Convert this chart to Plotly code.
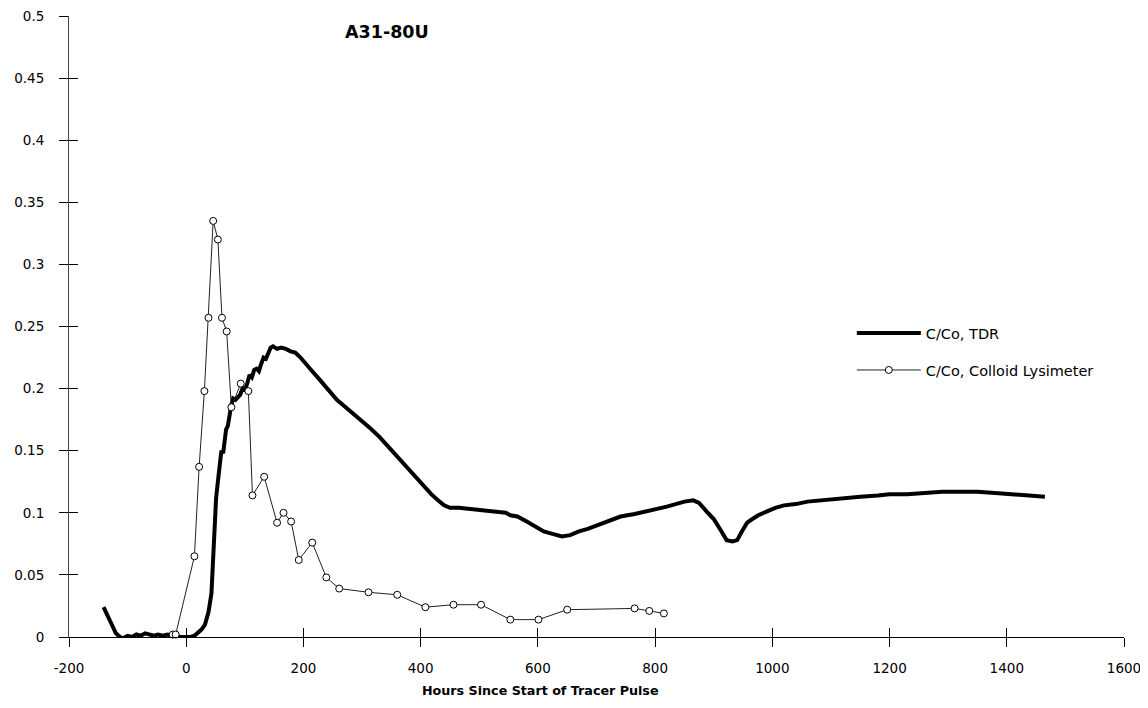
import plotly.graph_objects as go

# ---- data ----
tdr_hours = [-141, -135, -128, -120, -113, -108, -100, -92, -85, -78, -70, -62, -55, -48, -40, -32, -25, -18, -10, 0,
             8, 14, 20, 26, 32, 38, 43, 46, 48, 51, 54, 57, 60, 63, 65, 68, 71, 74, 77, 80, 84, 88, 92, 96, 100,
             104, 108, 112, 116, 120, 124, 128, 132, 136, 140, 144, 148, 155, 162, 170, 178, 186, 195, 205, 215,
             228, 242, 257, 272, 285, 300, 314, 330, 345, 360, 375, 390, 405, 418, 430, 440, 450, 465, 485, 505,
             530, 545, 553, 565, 581, 595, 610, 625, 641, 655, 670, 685, 701, 720, 741, 765, 786, 805, 820, 835,
             850, 865, 875, 888, 900, 912, 922, 932, 940, 948, 957, 966, 976, 990, 1005, 1020, 1040, 1060, 1080,
             1100, 1120, 1150, 1180, 1200, 1230, 1260, 1290, 1320, 1350, 1380, 1410, 1440, 1465]
tdr_conc = [0.024, 0.018, 0.010, 0.003, 0.000, -0.001, 0.001, 0.000, 0.002, 0.001, 0.003, 0.002, 0.001, 0.002,
            0.001, 0.002, 0.001, 0.001, 0.000, 0.000,
            0.000, 0.001, 0.003, 0.006, 0.010, 0.020, 0.035, 0.060, 0.090, 0.112, 0.125, 0.140, 0.150, 0.148,
            0.158, 0.167, 0.170, 0.180, 0.187, 0.192, 0.191, 0.193, 0.195, 0.200, 0.199,
            0.204, 0.211, 0.209, 0.215, 0.216, 0.214, 0.220, 0.225, 0.224, 0.228, 0.233, 0.234, 0.232, 0.233,
            0.232, 0.230, 0.229, 0.225, 0.220, 0.214,
            0.207, 0.199, 0.191, 0.185, 0.180, 0.174, 0.168, 0.161, 0.153, 0.145, 0.137, 0.129, 0.121, 0.115,
            0.110, 0.106, 0.104, 0.104, 0.103, 0.102,
            0.101, 0.100, 0.098, 0.097, 0.093, 0.089, 0.085, 0.083, 0.081, 0.082, 0.085, 0.087, 0.090, 0.093,
            0.097, 0.099, 0.101, 0.103, 0.105, 0.107,
            0.109, 0.110, 0.108, 0.101, 0.095, 0.086, 0.078, 0.077, 0.078, 0.085, 0.092, 0.095, 0.098, 0.101,
            0.104, 0.106, 0.107, 0.109, 0.110,
            0.111, 0.112, 0.113, 0.114, 0.115, 0.115, 0.116, 0.117, 0.117, 0.117, 0.116, 0.115, 0.114, 0.113]

lys_hours = [-23, -18, 14, 22, 31, 38, 46, 54, 61, 69, 77, 93, 106, 113, 133, 155, 166, 179, 192, 215, 239, 261,
             311, 360, 408, 456, 503, 553, 601, 650, 765, 790, 815]
lys_conc = [0.002, 0.002, 0.065, 0.137, 0.198, 0.257, 0.335, 0.320, 0.257, 0.246, 0.185, 0.204, 0.198, 0.114,
            0.129, 0.092, 0.100, 0.093, 0.062, 0.076, 0.048, 0.039, 0.036, 0.034, 0.024, 0.026, 0.026, 0.014,
            0.014, 0.022, 0.023, 0.021, 0.019]

x_ticks = [-200, 0, 200, 400, 600, 800, 1000, 1200, 1400, 1600]
y_ticks = [0, 0.05, 0.1, 0.15, 0.2, 0.25, 0.3, 0.35, 0.4, 0.45, 0.5]
y_tick_text = ["0", "0.05", "0.1", "0.15", "0.2", "0.25", "0.3", "0.35", "0.4", "0.45", "0.5"]

series_names = ["C/Co, TDR", "C/Co, Colloid Lysimeter"]
chart_title = "A31-80U"
x_title = "Hours Since Start of Tracer Pulse"

FONT = "DejaVu Sans"
X_RANGE = [-200, 1600]
Y_RANGE = [0, 0.5]

fig = go.Figure()
fig.add_trace(go.Scatter(
    x=tdr_hours, y=tdr_conc, mode="lines", name=series_names[0],
    line=dict(color="black", width=4), legendgroup="a",
    xaxis="x", yaxis="y",
))
fig.add_trace(go.Scatter(
    x=lys_hours, y=lys_conc, mode="lines+markers", name=series_names[1],
    line=dict(color="#222222", width=1),
    marker=dict(symbol="circle", size=7, color="white", line=dict(color="black", width=1)),
    legendgroup="b", cliponaxis=False,
    xaxis="x2", yaxis="y2",
))

common_x = dict(range=X_RANGE, tickvals=x_ticks, showgrid=False, zeroline=False, automargin=False,
                tickcolor="black", tickwidth=1, ticklen=9)
common_y = dict(range=Y_RANGE, tickvals=y_ticks, showgrid=False, zeroline=False, automargin=False,
                tickcolor="black", tickwidth=1, ticklen=9)

# page body has an 8px default margin: figure is sized/offset to compensate
fig.update_layout(
    width=1132, height=692,
    margin=dict(l=61, r=16, t=8, b=63),
    paper_bgcolor="white", plot_bgcolor="white",
    font=dict(family=FONT, size=14, color="black"),
    showlegend=True,
    legend=dict(x=0.742, y=0.515, xanchor="left", yanchor="top",
                font=dict(family=FONT, size=14.5, color="black"),
                bgcolor="rgba(0,0,0,0)", borderwidth=0,
                traceorder="grouped", tracegroupgap=15, itemwidth=64),
    xaxis=dict(**common_x, ticks="outside", showline=True, linecolor="black", linewidth=1,
               ticktext=[str(v) for v in x_ticks], ticklabelstandoff=10, ticklabeloverflow="allow",
               tickfont=dict(family=FONT, size=13.5)),
    yaxis=dict(**common_y, ticks="outside", showline=True, linecolor="#444444", linewidth=1,
               ticktext=y_tick_text, ticklabelstandoff=12, ticklabeloverflow="allow",
               tickfont=dict(family=FONT, size=13.5)),
    xaxis2=dict(**common_x, ticks="inside", overlaying="x", anchor="y2", showticklabels=False,
                showline=False),
    yaxis2=dict(**common_y, ticks="inside", overlaying="y", anchor="x2", showticklabels=False,
                showline=False, side="left"),
    annotations=[
        dict(text="<b>" + chart_title + "</b>", xref="paper", yref="paper", x=0.260, y=0.974,
             xanchor="left", yanchor="middle", showarrow=False,
             font=dict(family=FONT, size=17.5, color="black")),
        dict(text="<b>" + x_title + "</b>", xref="paper", yref="paper", x=0.447, y=-0.086,
             xanchor="center", yanchor="middle", showarrow=False,
             font=dict(family=FONT, size=12.7, color="black")),
    ],
)

fig.write_html("out.html")
